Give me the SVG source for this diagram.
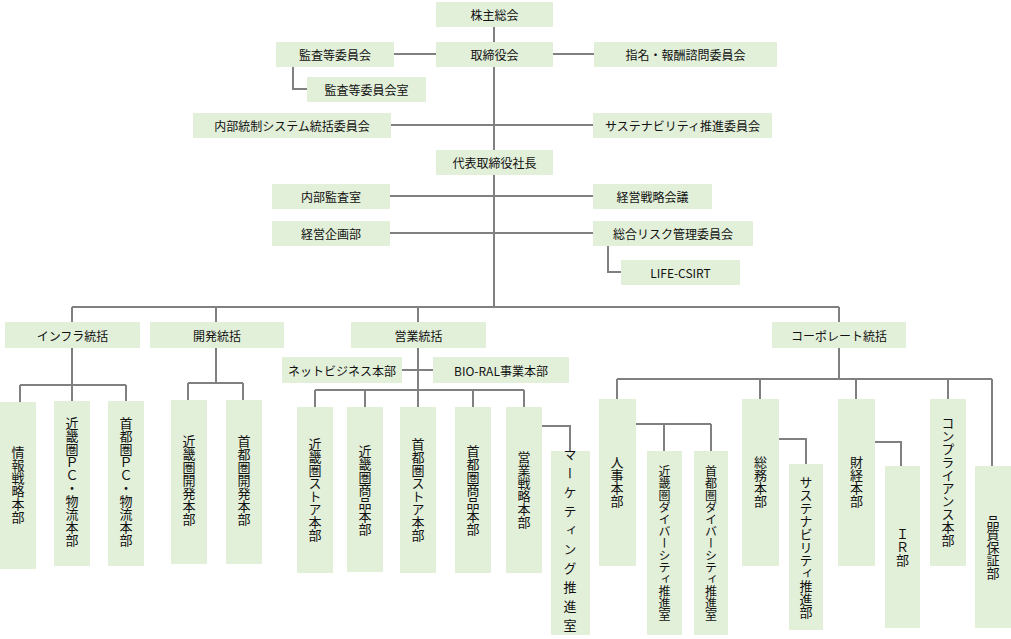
<svg xmlns="http://www.w3.org/2000/svg" width="1011" height="639" viewBox="0 0 1011 639">
<style>
.b{fill:#e2efd9}
.t{font-family:"Noto Sans CJK JP","Noto Sans",sans-serif;font-size:12px;fill:#111;text-anchor:middle;dominant-baseline:central}
.v{font-family:"Noto Sans CJK JP","Noto Sans",sans-serif;font-size:13px;fill:#111;writing-mode:vertical-rl;text-orientation:upright;text-anchor:middle;dominant-baseline:central}
.c path{fill:none;stroke:#808080;stroke-width:2}
</style>
<rect width="1011" height="639" fill="#fff"/>
<g class="c">
<path d="M494 27V307M72 307H839M394 54H436M553 54H594M293 67V89H307M391 125H593M390 196H593M390 233H593M608 246V272H621"/>
<path d="M72 307V322M216 307V322M418 307V322M839 307V322"/>
<path d="M72 348V385M20 385H126M20 385V402M72 385V401M126 385V401"/>
<path d="M216 348V383M188 383H243M188 383V400M243 383V400"/>
<path d="M418 348V390M402 370H433M315 390H524M315 390V407M365 390V407M418 390V407M473 390V407M524 390V407M542 426H570V451"/>
<path d="M839 348V379M617 379H992M617 379V399M760 379V399M856 379V399M948 379V399M992 379V466M636 424H711M664 424V451M711 424V451M779 439H806V464M875 442H901V466"/>
</g>
<g id="n1"><rect class="b" x="436" y="2" width="117" height="25"/><text class="t" x="494.5" y="14.5">株主総会</text></g>
<g id="n2"><rect class="b" x="436" y="42" width="117" height="25"/><text class="t" x="494.5" y="54.5">取締役会</text></g>
<g id="n3"><rect class="b" x="276" y="42" width="118" height="25"/><text class="t" x="335" y="54.5">監査等委員会</text></g>
<g id="n4"><rect class="b" x="307" y="77" width="119" height="25"/><text class="t" x="366.5" y="89.5">監査等委員会室</text></g>
<g id="n5"><rect class="b" x="594" y="42" width="183" height="25"/><text class="t" x="685.5" y="54.5">指名・報酬諮問委員会</text></g>
<g id="n6"><rect class="b" x="193" y="113" width="198" height="25"/><text class="t" x="292" y="125.5">内部統制システム統括委員会</text></g>
<g id="n7"><rect class="b" x="593" y="113" width="179" height="25"/><text class="t" x="682.5" y="125.5">サステナビリティ推進委員会</text></g>
<g id="n8"><rect class="b" x="436" y="150" width="117" height="25"/><text class="t" x="494.5" y="162.5">代表取締役社長</text></g>
<g id="n9"><rect class="b" x="272" y="184" width="118" height="25"/><text class="t" x="331" y="196.5">内部監査室</text></g>
<g id="n10"><rect class="b" x="593" y="184" width="119" height="25"/><text class="t" x="652.5" y="196.5">経営戦略会議</text></g>
<g id="n11"><rect class="b" x="272" y="221" width="118" height="25"/><text class="t" x="331" y="233.5">経営企画部</text></g>
<g id="n12"><rect class="b" x="593" y="221" width="160" height="25"/><text class="t" x="673" y="233.5">総合リスク管理委員会</text></g>
<g id="n13"><rect class="b" x="621" y="260" width="119" height="25"/><text class="t" x="680.5" y="272.5">LIFE-CSIRT</text></g>
<g id="n14"><rect class="b" x="5" y="322" width="135" height="26"/><text class="t" x="72.5" y="335">インフラ統括</text></g>
<g id="n15"><rect class="b" x="150" y="322" width="134" height="26"/><text class="t" x="217" y="335">開発統括</text></g>
<g id="n16"><rect class="b" x="351" y="322" width="135" height="26"/><text class="t" x="418.5" y="335">営業統括</text></g>
<g id="n17"><rect class="b" x="772" y="322" width="134" height="26"/><text class="t" x="839" y="335">コーポレート統括</text></g>
<g id="n18"><rect class="b" x="282" y="357" width="120" height="26"/><text class="t" x="342" y="370">ネットビジネス本部</text></g>
<g id="n19"><rect class="b" x="433" y="357" width="136" height="26"/><text class="t" x="501" y="370">BIO-RAL事業本部</text></g>
<g id="n20"><rect class="b" x="0" y="402" width="36" height="167"/><text class="v" x="18" y="485">情報戦略本部</text></g>
<g id="n21"><rect class="b" x="54" y="401" width="36" height="165"/><text class="v" x="72" y="482">近畿圏ＰＣ・物流本部</text></g>
<g id="n22"><rect class="b" x="108" y="401" width="36" height="165"/><text class="v" x="126" y="482">首都圏ＰＣ・物流本部</text></g>
<g id="n23"><rect class="b" x="171" y="400" width="36" height="164"/><text class="v" x="189" y="480">近畿圏開発本部</text></g>
<g id="n24"><rect class="b" x="226" y="400" width="36" height="164"/><text class="v" x="244" y="480">首都圏開発本部</text></g>
<g id="n25"><rect class="b" x="297" y="407" width="36" height="166"/><text class="v" x="315" y="490">近畿圏ストア本部</text></g>
<g id="n26"><rect class="b" x="347" y="407" width="36" height="165"/><text class="v" x="365" y="490">近畿圏商品本部</text></g>
<g id="n27"><rect class="b" x="400" y="407" width="36" height="166"/><text class="v" x="418" y="490">首都圏ストア本部</text></g>
<g id="n28"><rect class="b" x="455" y="407" width="36" height="166"/><text class="v" x="473" y="490">首都圏商品本部</text></g>
<g id="n29"><rect class="b" x="506" y="407" width="36" height="166"/><text class="v" x="524" y="490">営業戦略本部</text></g>
<g id="n30"><rect class="b" x="551" y="451" width="39" height="184"/><text class="v" x="570" y="543" style="letter-spacing:6px">マーケティング推進室</text></g>
<g id="n31"><rect class="b" x="599" y="399" width="37" height="167"/><text class="v" x="617" y="482">人事本部</text></g>
<g id="n32"><rect class="b" x="647" y="451" width="35" height="184"/><text class="v" x="664.5" y="543" style="font-size:12px">近畿圏ダイバーシティ推進室</text></g>
<g id="n33"><rect class="b" x="694" y="451" width="34" height="184"/><text class="v" x="711" y="543" style="font-size:12px">首都圏ダイバーシティ推進室</text></g>
<g id="n34"><rect class="b" x="742" y="399" width="37" height="167"/><text class="v" x="760.5" y="482">総務本部</text></g>
<g id="n35"><rect class="b" x="789" y="464" width="34" height="166"/><text class="v" x="806" y="547">サステナビリティ推進部</text></g>
<g id="n36"><rect class="b" x="838" y="399" width="37" height="167"/><text class="v" x="856.5" y="482">財経本部</text></g>
<g id="n37"><rect class="b" x="885" y="466" width="35" height="162"/><text class="v" x="902.5" y="547">ＩＲ部</text></g>
<g id="n38"><rect class="b" x="930" y="399" width="36" height="167"/><text class="v" x="948" y="482">コンプライアンス本部</text></g>
<g id="n39"><rect class="b" x="975" y="466" width="36" height="162"/><text class="v" x="993" y="547">品質保証部</text></g>
</svg>
